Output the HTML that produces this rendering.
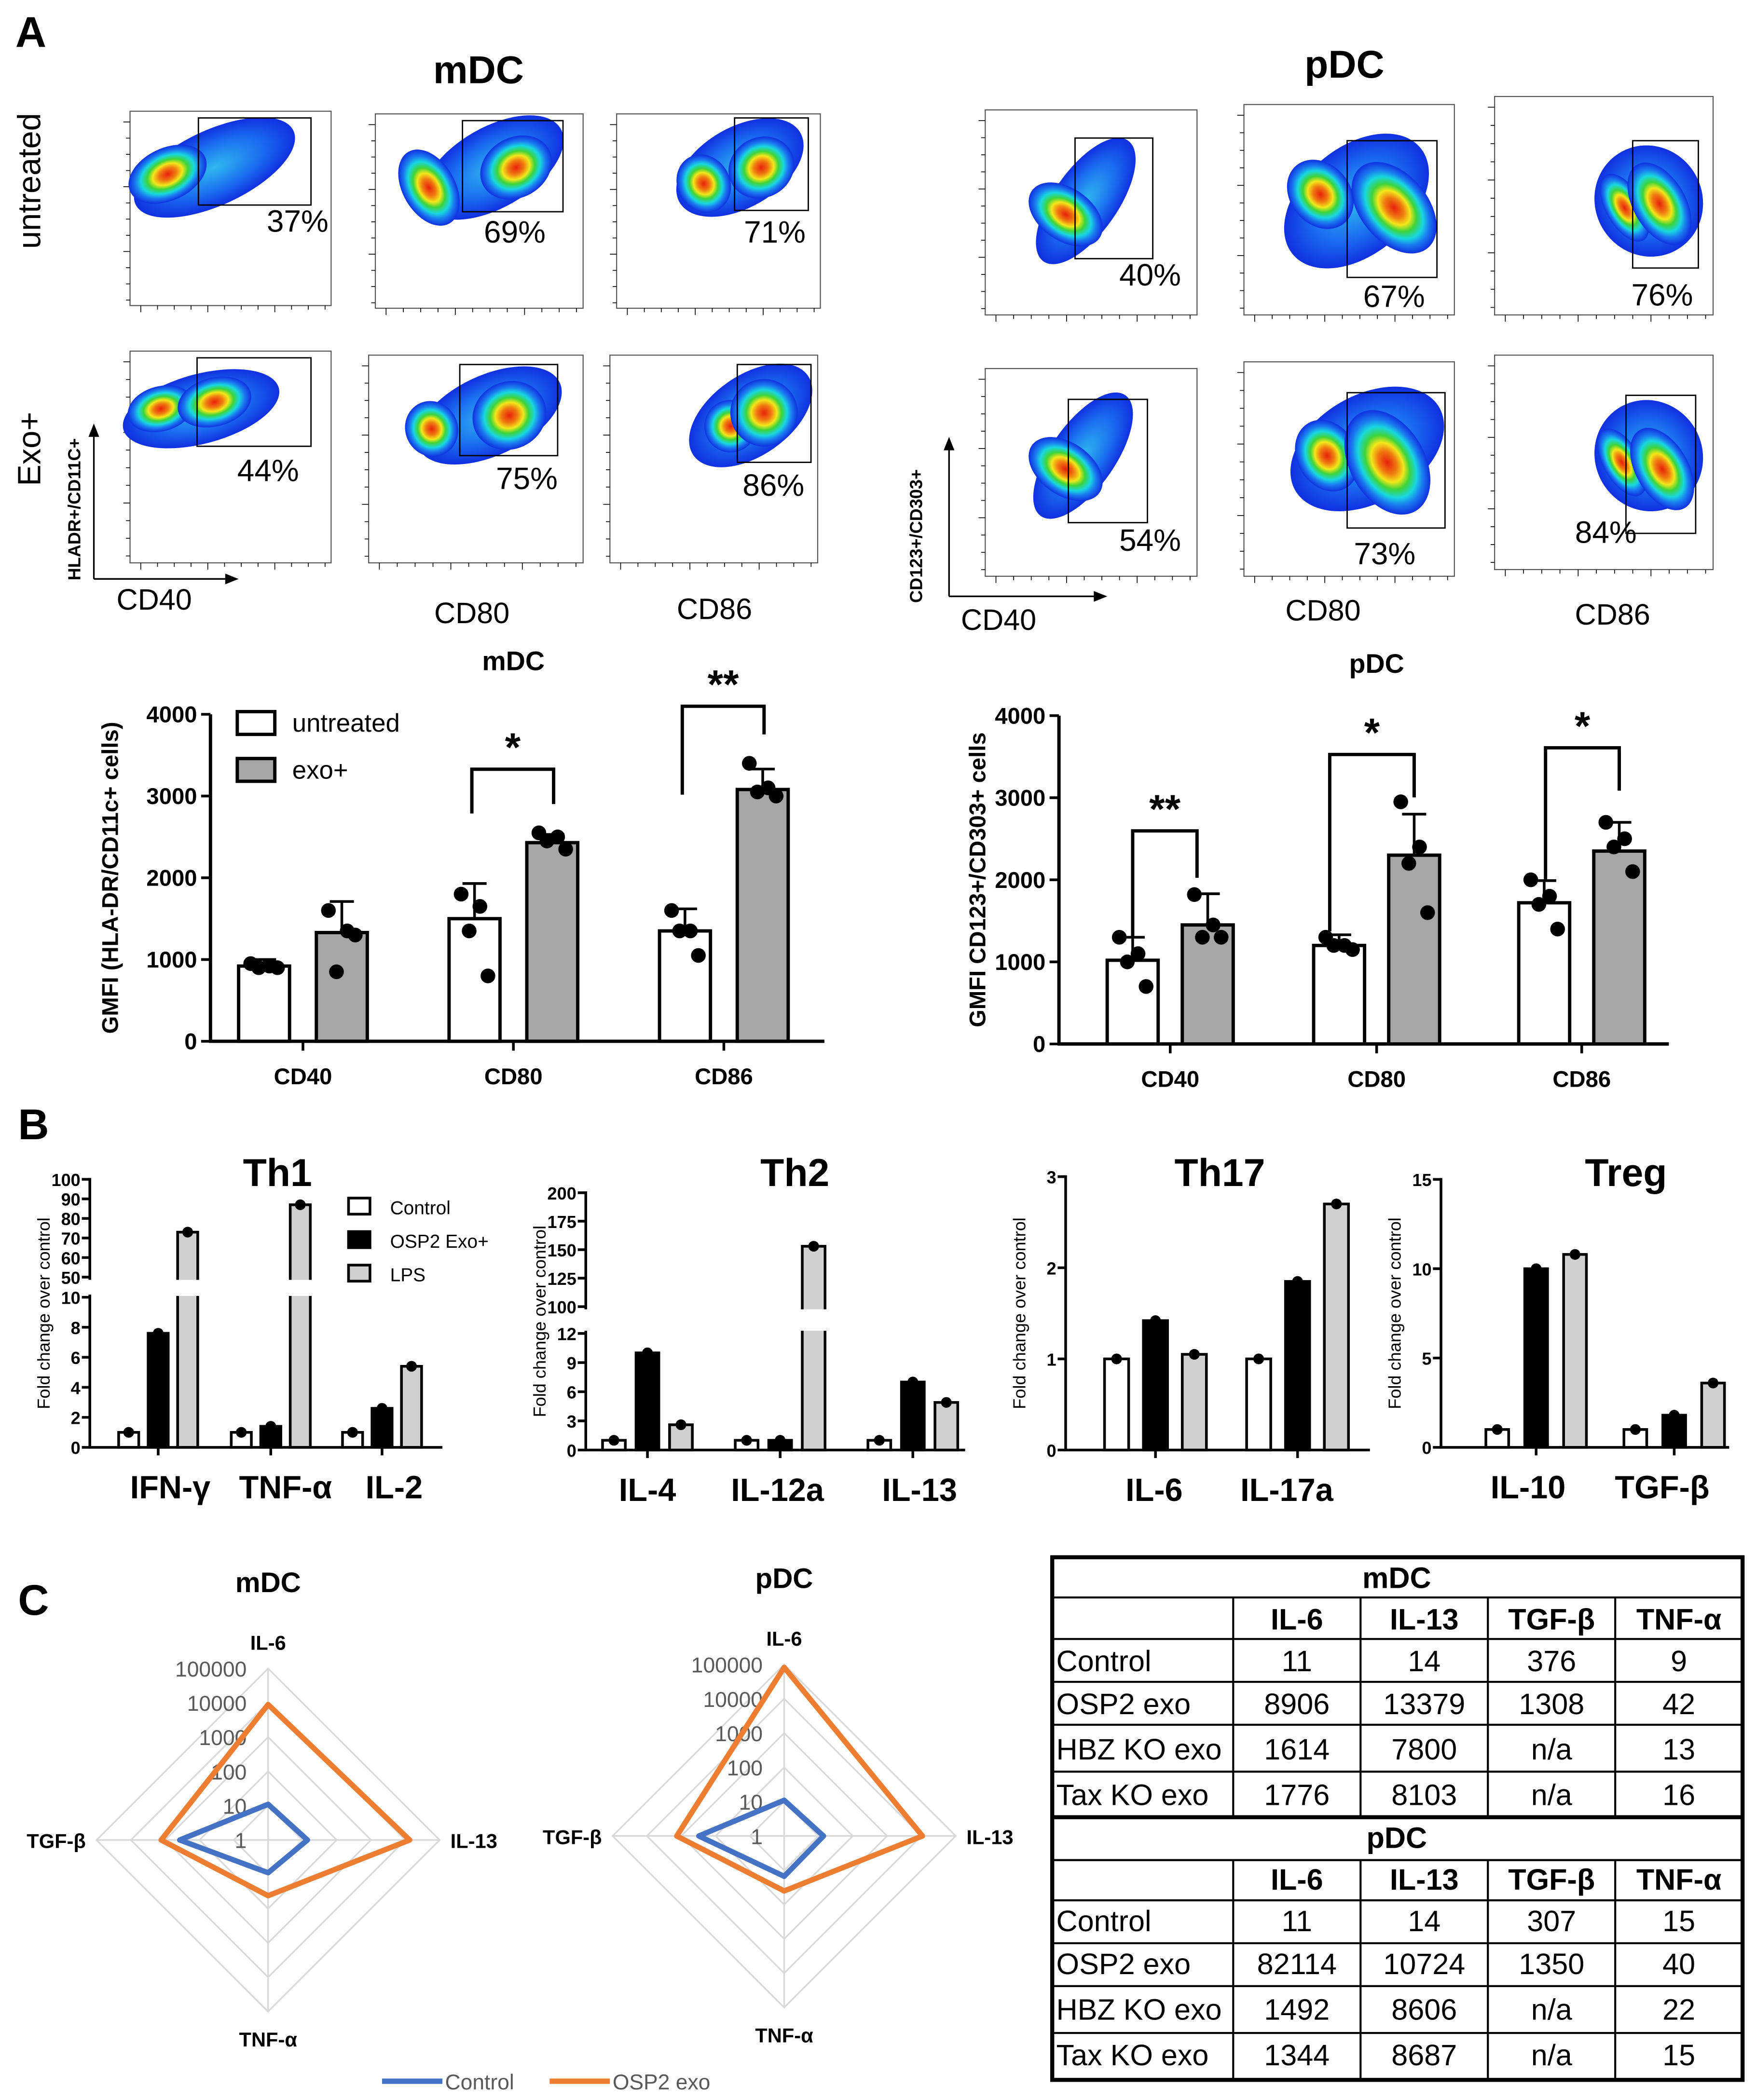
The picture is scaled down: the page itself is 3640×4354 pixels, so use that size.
<!DOCTYPE html>
<html><head><meta charset="utf-8"><style>
html,body{margin:0;padding:0;background:#fff;}
svg{display:block;font-family:"Liberation Sans",Arial,sans-serif;}
</style></head><body>
<svg id="fig" width="3640" height="4354" viewBox="0 0 1310 1567" xmlns="http://www.w3.org/2000/svg">
<defs>
<radialGradient id="flowg" cx="50%" cy="50%" r="50%">
<stop offset="0" stop-color="#e8200c"/><stop offset="0.22" stop-color="#f07a10"/><stop offset="0.38" stop-color="#f2e81a"/><stop offset="0.52" stop-color="#3ed43a"/><stop offset="0.68" stop-color="#18d8e0"/><stop offset="0.82" stop-color="#1a7cf0"/><stop offset="1" stop-color="#1030e0"/>
</radialGradient>
<radialGradient id="flowb" cx="50%" cy="50%" r="50%">
<stop offset="0" stop-color="#30b8f0"/><stop offset="0.6" stop-color="#1a6cf0"/><stop offset="1" stop-color="#1030e0"/>
</radialGradient>
</defs>
<g id="root"></g>
</svg>
<script>
// ---------- data: panel A bar charts ----------
const mdcCats=['CD40','CD80','CD86'];
const mdcUntr=[920,1500,1350];
const mdcExo=[1330,2430,3080];
const mdcUntrErr=[80,430,270];
const mdcExoErr=[380,100,250];
const mdcUntrPts=[[950,920,900,900],[1800,1650,1350,800],[1600,1350,1350,1050]];
const mdcExoPts=[[1600,1350,850,1300],[2550,2500,2450,2350],[3400,3100,3050,3000]];
const pdcCats=['CD40','CD80','CD86'];
const pdcUntr=[1020,1200,1720];
const pdcExo=[1450,2300,2350];
const pdcUntrErr=[280,130,270];
const pdcExoErr=[380,500,350];
const pdcUntrPts=[[1300,1100,1000,700],[1300,1200,1200,1150],[2000,1800,1700,1400]];
const pdcExoPts=[[1820,1450,1300,1300],[2950,2400,2200,1600],[2700,2500,2400,2100]];
const gmfiTicks=[0,1000,2000,3000,4000];
// ---------- data: panel B ----------
const th1Cats=['IFN-γ','TNF-α','IL-2'];
const th1Ctrl=[1,1,1];
const th1Osp=[7.6,1.4,2.6];
const th1Lps=[73,87,5.4];
const th1LowTicks=[0,2,4,6,8,10];
const th1HighTicks=[50,60,70,80,90,100];
const th2Cats=['IL-4','IL-12a','IL-13'];
const th2Ctrl=[1,1,1];
const th2Osp=[10,1,7];
const th2Lps=[2.6,153,4.9];
const th2LowTicks=[0,3,6,9,12];
const th2HighTicks=[100,125,150,175,200];
const th17Cats=['IL-6','IL-17a'];
const th17Ctrl=[1,1];
const th17Osp=[1.42,1.85];
const th17Lps=[1.05,2.7];
const th17Ticks=[0,1,2,3];
const tregCats=['IL-10','TGF-β'];
const tregCtrl=[1,1];
const tregOsp=[10,1.8];
const tregLps=[10.8,3.6];
const tregTicks=[0,5,10,15];
// ---------- data: panel C ----------
const radarAxes=['IL-6','IL-13','TNF-α','TGF-β'];
const mdcCtrlRadar=[11,14,9,376];
const mdcOspRadar=[8906,13379,42,1308];
const pdcCtrlRadar=[11,14,15,307];
const pdcOspRadar=[82114,10724,40,1350];
const radarTicks=['1','10','100','1000','10000','100000'];
const tableCols=['IL-6','IL-13','TGF-β','TNF-α'];
const tableRows=['Control','OSP2 exo','HBZ KO exo','Tax KO exo'];
const mdcTable=[['11','14','376','9'],['8906','13379','1308','42'],['1614','7800','n/a','13'],['1776','8103','n/a','16']];
const pdcTable=[['11','14','307','15'],['82114','10724','1350','40'],['1492','8606','n/a','22'],['1344','8687','n/a','15']];

const NS='http://www.w3.org/2000/svg';
const root=document.getElementById('root');
function mk(tag,attrs,parent){const e=document.createElementNS(NS,tag);for(const k in attrs)e.setAttribute(k,attrs[k]);(parent||root).appendChild(e);return e;}
function txt(s,x,y,size,opts,parent){opts=opts||{};const e=mk('text',{x:x,y:y,'font-size':size,'text-anchor':opts.anchor||'middle','font-weight':opts.bold?'bold':'normal',fill:opts.fill||'#000'},parent);if(opts.rot!==undefined)e.setAttribute('transform','rotate('+opts.rot+' '+x+' '+y+')');if(opts.family)e.setAttribute('font-family',opts.family);e.textContent=s;return e;}
function line(x1,y1,x2,y2,w,c,parent){return mk('line',{x1:x1,y1:y1,x2:x2,y2:y2,stroke:c||'#000','stroke-width':w||1},parent);}

// ---------- panel labels and headings ----------
let t;
t=txt('A',23,35,32,{bold:true});
t=txt('B',25,850,32,{bold:true});
t=txt('C',25,1205,32,{bold:true});
t=txt('mDC',357,62,29,{bold:true});
t=txt('pDC',1003,58,29,{bold:true});
t=txt('untreated',30,135,24,{rot:-90});
t=txt('Exo+',30,335,24,{rot:-90});

// ---------- flow plots ----------
const flows=[
 {f:[97,83,150,145],b:[160,125,65,28,-25],c:[[125,130,22,14]],g:[148,88,232,153],p:['37%',222,173]},
 {f:[280,85,155,145],b:[368,125,58,30,-30],c:[[320,140,14,22],[385,125,20,16]],g:[345,90,420,158],p:['69%',384,181]},
 {f:[460,85,152,145],b:[552,125,52,30,-30],c:[[525,137,14,16],[568,125,18,16]],g:[548,88,603,157],p:['71%',578,181]},
 {f:[97,262,150,158],b:[150,305,60,26,-15],c:[[120,305,18,12],[160,300,20,13]],g:[147,267,232,333],p:['44%',200,359]},
 {f:[275,265,160,155],b:[365,310,58,30,-25],c:[[322,320,14,15],[380,310,20,18]],g:[343,272,416,340],p:['75%',393,365]},
 {f:[455,265,155,155],b:[560,310,52,30,-35],c:[[545,318,14,14],[570,308,18,18]],g:[550,272,605,345],p:['86%',577,370]},
 {f:[735,82,158,153],b:[810,150,55,24,-55],c:[[795,160,14,22]],g:[802,103,860,193],p:['40%',858,213]},
 {f:[928,78,157,157],b:[1012,150,62,40,-40],c:[[985,145,16,20],[1040,155,18,28]],g:[1005,105,1072,207],p:['67%',1040,229]},
 {f:[1115,72,163,163],b:[1230,150,40,42,-30],c:[[1212,155,10,20],[1238,152,14,24]],g:[1218,105,1267,200],p:['76%',1240,228]},
 {f:[735,275,158,155],b:[808,340,55,24,-55],c:[[795,350,14,22]],g:[797,298,856,390],p:['54%',858,411]},
 {f:[928,270,157,160],b:[1020,335,62,40,-30],c:[[990,340,16,20],[1035,345,20,30]],g:[1005,293,1078,394],p:['73%',1033,421]},
 {f:[1115,265,163,160],b:[1230,340,40,42,-30],c:[[1210,345,10,20],[1240,350,14,24]],g:[1213,295,1265,398],p:['84%',1198,405]}
];
flows.forEach((fp,i)=>{
 const g=mk('g',{});
 
 
 mk('rect',{x:fp.f[0],y:fp.f[1],width:fp.f[2],height:fp.f[3],fill:'#fff',stroke:'#555','stroke-width':0.8},g);
 for(let k=0;k<12;k++){line(fp.f[0]+8+k*fp.f[2]/12,fp.f[1]+fp.f[3],fp.f[0]+8+k*fp.f[2]/12,fp.f[1]+fp.f[3]+(k%4==0?5:3),0.6,'#000',g);}
 for(let k=0;k<12;k++){line(fp.f[0],fp.f[1]+8+k*fp.f[3]/12,fp.f[0]-(k%4==0?5:3),fp.f[1]+8+k*fp.f[3]/12,0.6,'#000',g);}
 const b=fp.b;
 mk('ellipse',{cx:b[0],cy:b[1],rx:b[2],ry:b[3],fill:'url(#flowb)',transform:'rotate('+b[4]+' '+b[0]+' '+b[1]+')'},g);
 fp.c.forEach(c=>{mk('ellipse',{cx:c[0],cy:c[1],rx:c[2]*1.4,ry:c[3]*1.4,fill:'url(#flowg)',transform:'rotate('+b[4]+' '+c[0]+' '+c[1]+')'},g);});
 const gr=mk('rect',{x:fp.g[0],y:fp.g[1],width:fp.g[2]-fp.g[0],height:fp.g[3]-fp.g[1],fill:'none',stroke:'#000','stroke-width':1},g);
 
 
 const pt=txt(fp.p[0],fp.p[1],fp.p[2],23,{},g);
 
 
});
[['CD40',115,455],['CD80',352,465],['CD86',533,462],['CD40',745,470],['CD80',987,463],['CD86',1203,466]].forEach((a,i)=>{
 t=txt(a[0],a[1],a[2],22,{});
});
t=txt('HLADR+/CD11C+',60,380,13,{rot:-90,bold:true});
t=txt('CD123+/CD303+',688,400,13,{rot:-90,bold:true});
line(70,432,70,322,1.2);mk('path',{d:'M66,326 L70,316 L74,326 Z'});
line(70,432,172,432,1.2);mk('path',{d:'M168,428 L178,432 L168,436 Z'});
line(708,445,708,332,1.2);mk('path',{d:'M704,336 L708,326 L712,336 Z'});
line(708,445,820,445,1.2);mk('path',{d:'M816,441 L826,445 L816,449 Z'});

// ---------- GMFI bar charts ----------
function gmfi(cfg){
 const g=mk('g',{});
 
 
 const y=v=>cfg.y0-(v/4000)*(cfg.y0-cfg.y4);
 line(cfg.ax,cfg.y4,cfg.ax,cfg.y0+1,2.5,'#000',g);
 line(cfg.ax-1,cfg.y0,cfg.xe,cfg.y0,2.5,'#000',g);
 gmfiTicks.forEach(v=>{line(cfg.ax-7,y(v),cfg.ax,y(v),2,'#000',g);const tt=txt(String(v),cfg.ax-10,y(v)+6,17,{anchor:'end',bold:true},g);});
 const yl=txt(cfg.ylab,cfg.ylx,(cfg.y0+cfg.y4)/2,17,{rot:-90,bold:true},g);
 
 
 const tl=txt(cfg.title,cfg.tx,cfg.ty,20,{bold:true},g);
 
 
 cfg.cats.forEach((c,i)=>{
  const cx=cfg.centers[i];
  line(cx,cfg.y0,cx,cfg.y0+7,2,'#000',g);
  const cl=txt(c,cx,cfg.y0+32,17,{bold:true},g);
  
  
  [[cfg.untr,cfg.uerr,cfg.upts,-cfg.off,'#fff','untreated'],[cfg.exo,cfg.eerr,cfg.epts,cfg.off,'#a6a6a6','exo']].forEach(s=>{
   const bx=cx+s[3];const v=s[0][i];
   line(bx,y(v),bx,y(v+s[1][i]),2,'#000',g);line(bx-9,y(v+s[1][i]),bx+9,y(v+s[1][i]),2,'#000',g);
   const r=mk('rect',{x:bx-19,y:y(v),width:38,height:cfg.y0-y(v),fill:s[4],stroke:'#000','stroke-width':2.5},g);
   
   
   const offs=[-10,4,-4,10];
   s[2][i].forEach((p,k)=>{const d=mk('circle',{cx:bx+offs[k],cy:y(p),r:5.5,fill:'#000'},g);});
  });
 });
 cfg.sig.forEach(sg=>{
  mk('polyline',{points:sg.x1+','+sg.ya+' '+sg.x1+','+sg.top+' '+sg.x2+','+sg.top+' '+sg.x2+','+sg.yb,fill:'none',stroke:'#000','stroke-width':2.5},g);
  const st=txt(sg.s,(sg.x1+sg.x2)/2,sg.top-6,30,{bold:true},g);
  
  
 });
}
gmfi({name:'mdc-gmfi-chart',ax:157,y0:777,y4:533,xe:615,centers:[226,383,540],off:29,cats:mdcCats,untr:mdcUntr,exo:mdcExo,uerr:mdcUntrErr,eerr:mdcExoErr,upts:mdcUntrPts,epts:mdcExoPts,ylab:'GMFI (HLA-DR/CD11c+ cells)',ylx:88,title:'mDC',tx:383,ty:500,
 sig:[{x1:352,x2:413,ya:607,yb:600,top:574,s:'*'},{x1:509,x2:570,ya:593,yb:548,top:527,s:'**'}]});
gmfi({name:'pdc-gmfi-chart',ax:790,y0:779,y4:534,xe:1245,centers:[873,1027,1180],off:28,cats:pdcCats,untr:pdcUntr,exo:pdcExo,uerr:pdcUntrErr,eerr:pdcExoErr,upts:pdcUntrPts,epts:pdcExoPts,ylab:'GMFI CD123+/CD303+ cells',ylx:735,title:'pDC',tx:1027,ty:502,
 sig:[{x1:845,x2:893,ya:700,yb:655,top:620,s:'**'},{x1:992,x2:1055,ya:695,yb:595,top:563,s:'*'},{x1:1153,x2:1208,ya:658,yb:590,top:558,s:'*'}]});
let lg=mk('rect',{x:177,y:531,width:28,height:17,fill:'#fff',stroke:'#000','stroke-width':2.5});
t=txt('untreated',218,546,19,{anchor:'start'});
lg=mk('rect',{x:177,y:566,width:28,height:17,fill:'#a6a6a6',stroke:'#000','stroke-width':2.5});
t=txt('exo+',218,581,19,{anchor:'start'});

// ---------- Panel B ----------
function foldChart(cfg){
 const g=mk('g',{});
 
 
 const y=cfg.y;
 const tt=txt(cfg.title,cfg.tx,885,29,{bold:true},g);
 
 
 const yl=txt('Fold change over control',cfg.ax-30,(cfg.y0+cfg.ytop)/2,13,{rot:-90},g);
 
 
 cfg.segments.forEach(sgm=>line(cfg.ax,sgm[0],cfg.ax,sgm[1],2,'#000',g));
 line(cfg.ax-1,cfg.y0,cfg.xe,cfg.y0,2,'#000',g);
 cfg.ticks.forEach(v=>{line(cfg.ax-6,y(v),cfg.ax,y(v),2,'#000',g);const tl=txt(String(v),cfg.ax-7,y(v)+5,13,{anchor:'end',bold:true},g);});
 cfg.cats.forEach((c,i)=>{
  const cx=cfg.centers[i];
  line(cx,cfg.y0,cx,cfg.y0+6,2,'#000',g);
  const cl=txt(c,cfg.labx[i],cfg.y0+38,24,{bold:true,family:'"Liberation Sans","DejaVu Sans",sans-serif'},g);
  
  
  [[cfg.ctrl,'#fff','control'],[cfg.osp,'#000','osp2-exo'],[cfg.lps,'#d0d0d0','lps']].forEach((s,k)=>{
   const bx=cx+(k-1)*cfg.gap;const v=s[0][i];
   const r=mk('rect',{x:bx-cfg.bw/2,y:y(v),width:cfg.bw,height:cfg.y0-y(v),fill:s[1],stroke:'#000','stroke-width':2},g);
   
   
   if(cfg.brk && v>cfg.brk[2]){mk('rect',{x:bx-cfg.bw/2-2,y:cfg.brk[0],width:cfg.bw+4,height:cfg.brk[1]-cfg.brk[0],fill:'#fff'},g);}
   const d=mk('circle',{cx:bx,cy:y(v),r:4,fill:'#000'},g);
   
   
  });
 });
}
foldChart({name:'th1-chart',title:'Th1',tx:207,ax:67,y0:1080,ytop:880,xe:330,
 y:v=>v<=10?1080-v*11.2:953-(v-50)*1.46,segments:[[1080,966],[955,879]],ticks:th1LowTicks.concat(th1HighTicks),
 cats:th1Cats,centers:[118,202,285],labx:[127,213,294],gap:22,bw:15,ctrl:th1Ctrl,osp:th1Osp,lps:th1Lps,brk:[955,967,10]});
foldChart({name:'th2-chart',title:'Th2',tx:593,ax:437,y0:1082,ytop:890,xe:720,
 y:v=>v<=12?1082-v*7.25:975-(v-100)*0.85,segments:[[1082,993],[977,889]],ticks:th2LowTicks.concat(th2HighTicks),
 cats:th2Cats,centers:[483,582,681],labx:[483,580,686],gap:25,bw:17,ctrl:th2Ctrl,osp:th2Osp,lps:th2Lps,brk:[977,993,12]});
foldChart({name:'th17-chart',title:'Th17',tx:910,ax:795,y0:1082,ytop:878,xe:1022,
 y:v=>1082-v*68,segments:[[1082,877]],ticks:th17Ticks,
 cats:th17Cats,centers:[862,968],labx:[861,960],gap:29,bw:18,ctrl:th17Ctrl,osp:th17Osp,lps:th17Lps});
foldChart({name:'treg-chart',title:'Treg',tx:1213,ax:1075,y0:1080,ytop:880,xe:1290,
 y:v=>1080-v*13.33,segments:[[1080,879]],ticks:tregTicks,
 cats:tregCats,centers:[1146,1249],labx:[1140,1240],gap:29,bw:17,ctrl:tregCtrl,osp:tregOsp,lps:tregLps});
[['Control','#fff',902],['OSP2 Exo+','#000',927],['LPS','#d0d0d0',952]].forEach((l,i)=>{
 const r=mk('rect',{x:260,y:l[2]-8,width:16,height:12,fill:l[1],stroke:'#000','stroke-width':2});
 
 
 const tx=txt(l[0],291,l[2]+4,14,{anchor:'start'});
 
 
});

// ---------- Panel C radar ----------
function radar(name,title,cx,cy,ctrl,osp){
 const g=mk('g',{});
 
 
 const R=25.6;
 const dirs=[[0,-1],[1,0],[0,1],[-1,0]];
 const tl=txt(title,cx,cy-185,21,{bold:true},g);
 
 
 for(let d=1;d<=5;d++){const r=d*R;mk('polygon',{points:dirs.map(p=>(cx+p[0]*r)+','+(cy+p[1]*r)).join(' '),fill:'none',stroke:'#d9d9d9','stroke-width':1.2},g);}
 dirs.forEach(p=>line(cx,cy,cx+p[0]*5*R,cy+p[1]*5*R,1.2,'#d9d9d9',g));
 radarTicks.forEach((s,d)=>{const tt=txt(s,cx-16,cy-d*R+6,16,{anchor:'end',fill:'#595959'},g);});
 const labs=[[cx,cy-5*R-14,'middle'],[cx+5*R+8,cy+6,'start'],[cx,cy+5*R+26,'middle'],[cx-5*R-8,cy+6,'end']];
 radarAxes.forEach((a,i)=>{const tt=txt(a,labs[i][0],labs[i][1],15,{anchor:labs[i][2],bold:true},g);});
 const pts=arr=>arr.map((v,i)=>{const r=Math.log10(v)*R;return (cx+dirs[i][0]*r)+','+(cy+dirs[i][1]*r);}).join(' ');
 const c=mk('polygon',{points:pts(ctrl),fill:'none',stroke:'#4472c4','stroke-width':4,'stroke-linejoin':'round'},g);
 
 
 const o=mk('polygon',{points:pts(osp),fill:'none',stroke:'#ed7d31','stroke-width':4,'stroke-linejoin':'round'},g);
 
 
}
radar('mdc-radar','mDC',200,1373,mdcCtrlRadar,mdcOspRadar);
radar('pdc-radar','pDC',585,1370,pdcCtrlRadar,pdcOspRadar);
let ll=line(285,1553,330,1553,4,'#4472c4');
t=txt('Control',332,1559,16,{anchor:'start',fill:'#595959'});
ll=line(410,1553,455,1553,4,'#ed7d31');
t=txt('OSP2 exo',457,1559,16,{anchor:'start',fill:'#595959'});

// ---------- table ----------
(function(){
 const g=mk('g',{});
 
 
 const colX=[785,920,1015,1110,1205,1300];
 const rowsY=[1162,1192,1223,1255,1287,1322,1356,1388,1418,1450,1482,1517,1552];
 mk('rect',{x:785,y:1162,width:515,height:390,fill:'#fff',stroke:'#000','stroke-width':3},g);
 rowsY.slice(1,-1).forEach((yy,i)=>line(785,yy,1300,yy,(i==5)?3:1.5,'#000',g));
 function vlines(a,b){colX.slice(1,-1).forEach(x=>line(x,a,x,b,1.5,'#000',g));}
 vlines(1192,1356);vlines(1388,1552);
 function block(title,y0,data,key){
  const h=txt(title,1042,y0+23,22,{bold:true},g);
  
  
  tableCols.forEach((c,j)=>{const tt=txt(c,(colX[j+1]+colX[j+2])/2,y0+54,22,{bold:true},g);});
  tableRows.forEach((r,i)=>{
   const yy=[y0+85,y0+117,y0+151,y0+185][i];
   const rt=txt(r,788,yy,22,{anchor:'start'},g);
   
   
   data[i].forEach((v,j)=>{const ct=txt(v,(colX[j+1]+colX[j+2])/2,yy,22,{},g);});
  });
 }
 block('mDC',1162,mdcTable,'mdc');
 block('pDC',1356,pdcTable,'pdc');
})();
</script>
</body></html>
